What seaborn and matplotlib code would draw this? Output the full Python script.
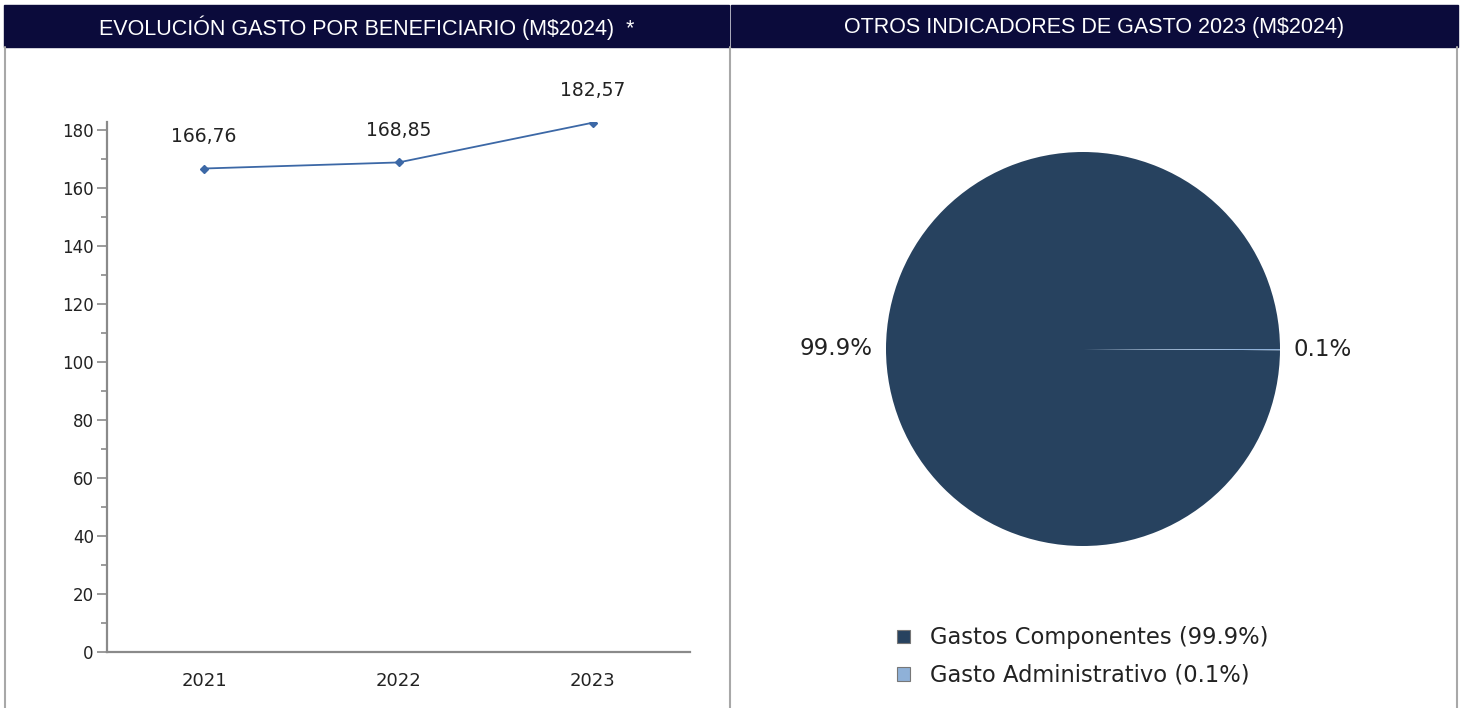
import matplotlib
matplotlib.use("Agg")
import matplotlib.pyplot as plt
from matplotlib.patches import Rectangle
from matplotlib.lines import Line2D
from matplotlib.ticker import MultipleLocator
import seaborn as sns
import pandas as pd

# data
years = ["2021", "2022", "2023"]
gasto = [166.76, 168.85, 182.57]
gasto_labels = ["166,76", "168,85", "182,57"]

pie_names = ["Gastos Componentes", "Gasto Administrativo"]
pie_share = [99.9, 0.1]
pie_labels = ["99.9%", "0.1%"]

title_left = "EVOLUCIÓN GASTO POR BENEFICIARIO (M$2024)  *"
title_right = "OTROS INDICADORES DE GASTO 2023 (M$2024)"

navy = "#0b0b3b"
line_col = "#3c68a6"
pie_cols = ["#27425f", "#8fb1d8"]

sns.set_style("white")
plt.rcParams['font.family'] = ['DejaVu Sans']

W, H = 1464, 708
fig = plt.figure(figsize=(W / 100, H / 100), dpi=100)

def fx(px):
    return px / W

def fy(py):
    return 1 - py / H

# header bars + panel frames
for x0, x1, t in [(4, 729, title_left), (731, 1458, title_right)]:
    fig.patches.append(Rectangle((fx(x0), fy(47)), fx(x1 - x0), (47 - 5) / H,
                                 transform=fig.transFigure, color=navy, zorder=0))
    fig.text(fx((x0 + x1) / 2), fy(28), t, color="white", ha="center", va="center",
             fontsize=15.5, family="Liberation Sans")
for xp in [5, 730, 1457]:
    fig.lines.append(Line2D([fx(xp), fx(xp)], [0, fy(47)], transform=fig.transFigure,
                            color="#a8a8a8", lw=1.5))

# line chart
df = pd.DataFrame({"year": years, "gasto": gasto})
ax = fig.add_axes([fx(107), fy(652), fx(690 - 107), (652 - 122) / H])
sns.pointplot(data=df, x="year", y="gasto", ax=ax, color=line_col, markers="D",
              markersize=4, linewidth=1.3, errorbar=None)
ax.set_xlim(-0.5, 2.5)
ax.set_ylim(0, 182.8)
ax.yaxis.set_major_locator(MultipleLocator(20))
ax.yaxis.set_minor_locator(MultipleLocator(10))
ax.set_xlabel("")
ax.set_ylabel("")
for s in ["top", "right"]:
    ax.spines[s].set_visible(False)
for s in ["left", "bottom"]:
    ax.spines[s].set_color("#8a8a8a")
    ax.spines[s].set_linewidth(1.6)
ax.tick_params(axis="y", which="both", left=True, color="#8a8a8a", labelsize=12,
               width=1.2, pad=2)
ax.tick_params(axis="y", which="major", length=7.5)
ax.tick_params(axis="y", which="minor", length=4.5)
ax.tick_params(axis="x", bottom=False, labelsize=13, pad=11)
for lab in ax.get_xticklabels() + ax.get_yticklabels():
    lab.set_color("#222222")
for i, v in enumerate(gasto):
    ax.annotate(gasto_labels[i], (i, v), xytext=(0, 16), textcoords="offset points",
                ha="center", va="bottom", fontsize=13.5, color="#222222")

# pie chart
r = 197
pax = fig.add_axes([fx(1083 - r), fy(349 + r), fx(2 * r), 2 * r / H])
wedges, texts = pax.pie(pie_share, labels=pie_labels, colors=pie_cols, startangle=0,
                        labeldistance=1.07, textprops={"fontsize": 16.5, "color": "#222222"},
                        wedgeprops={"linewidth": 0})
pax.set_aspect("equal")
pax.set_xlim(-1, 1)
pax.set_ylim(-1, 1)

handles = [Rectangle((0, 0), 1, 1, facecolor=c, edgecolor="#777777", lw=0.8)
           for c in pie_cols]
leg_txt = [f"{n} ({p:.1f}%)" for n, p in zip(pie_names, pie_share)]
fig.legend(handles, leg_txt, loc="upper left", bbox_to_anchor=(fx(877), fy(606)),
           frameon=False, fontsize=16.25, handlelength=0.55, handleheight=0.55,
           handletextpad=0.9, labelspacing=0.65, labelcolor="#222222")

fig.savefig("out.png", dpi=100, facecolor="white")
